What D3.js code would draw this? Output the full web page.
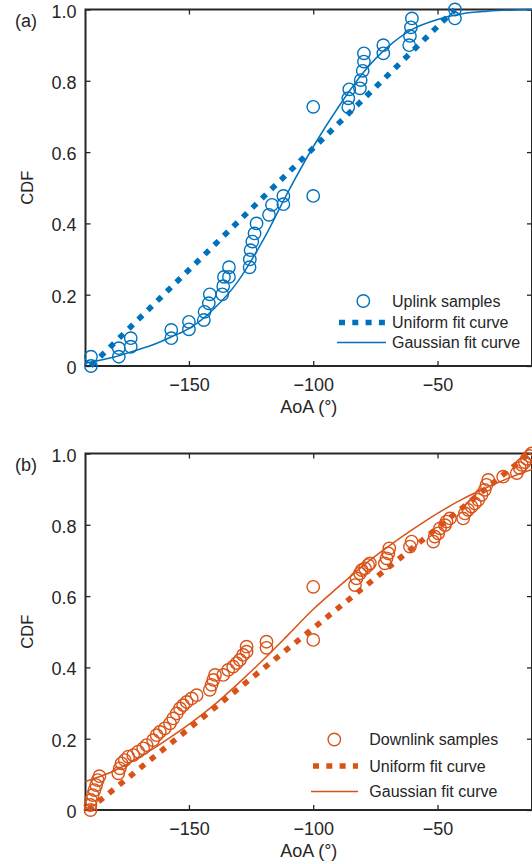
<!DOCTYPE html>
<html>
<head>
<meta charset="utf-8">
<script src="https://cdn.jsdelivr.net/npm/d3@7"></script>
<style>
  body { margin: 0; background: #fff; }
  text { font-family: "Liberation Sans", Arial, Helvetica, sans-serif; fill: #262626; }
</style>
</head>
<body>
<div id="container"></div>
<script>
// VARIABLES

const width = 532;
const height = 864;
const blue = "#0072BD";
const orange = "#D95319";
const axisColor = "#262626";

// DATA

const aoaTicks = [-150, -100, -50];
const cdfTicks = [0, 0.2, 0.4, 0.6, 0.8, 1];

// (a) uplink
const upAoA = [-189.4, -189.4, -178.2, -178.2, -173.4, -173.4, -157.1, -157.1, -150, -150,
  -144, -143.7, -142, -141.6, -136.6, -136.2, -135.9, -133.9, -133.9, -125.6,
  -125.5, -125.2, -124.5, -123.6, -122.8, -117.8, -116.6, -112, -112, -100,
  -100, -85.9, -85.9, -85.5, -81.2, -80.9, -80.1, -79.6, -79.6, -71.8,
  -71.8, -61.4, -61.1, -60.7, -60.3, -43, -43];
const upCdf = [0, 0.026, 0.026, 0.05, 0.054, 0.078, 0.078, 0.101, 0.103, 0.124,
  0.129, 0.152, 0.176, 0.201, 0.201, 0.224, 0.25, 0.25, 0.277, 0.277,
  0.299, 0.325, 0.349, 0.372, 0.4, 0.424, 0.452, 0.454, 0.477, 0.477,
  0.727, 0.726, 0.751, 0.776, 0.779, 0.802, 0.828, 0.854, 0.877, 0.877,
  0.9, 0.9, 0.926, 0.95, 0.975, 0.975, 1.0];
const upUniformAoA = [-189.5, -43];
const upUniformCdf = [0, 1];
const upGaussAoA = [-191.6, -180, -173, -165, -157, -150, -140, -130, -125, -120, -110, -100, -90, -80, -70, -60, -50, -40, -30, -12];
const upGaussCdf = [0.008, 0.025, 0.04, 0.058, 0.082, 0.105, 0.16, 0.24, 0.295, 0.355, 0.49, 0.615, 0.725, 0.822, 0.895, 0.945, 0.972, 0.988, 0.995, 1.0];

// (b) downlink
const downAoA = [-189.6, -189.6, -189.4, -188.7, -188, -187.3, -186.7, -186,
  -178.4, -177.8, -177.1, -175.8, -174.4, -172.4, -170.4, -168.4, -167,
  -164.4, -163, -161.7, -159.7, -157.6, -156.3, -154.9, -153.6, -152.3, -150.9, -148.9, -146.9,
  -141.6, -140.9, -140.2, -139.5,
  -136.2, -134.2, -132.2, -130.8, -129.5, -128.2, -126.8, -126.8,
  -118.8, -118.8, -100, -100,
  -83.2, -82.6, -81.2, -80.5, -79.2, -77.9, -77.2,
  -71.2, -70.5, -69.8, -69.4, -61.1, -60.4,
  -51.7, -51.1, -49.7, -49, -47, -46.4, -45,
  -39.7, -39, -37.7, -36.3, -35, -33.6, -32.3, -31, -30.3, -29.6,
  -23.6, -18.1, -16.9, -16.1, -14.9, -14.1, -12.9, -12.1];
const downCdf = [0, 0.014, 0.028, 0.042, 0.056, 0.07, 0.084, 0.095,
  0.103, 0.117, 0.131, 0.14, 0.15, 0.154, 0.164, 0.173, 0.182,
  0.196, 0.21, 0.219, 0.229, 0.243, 0.257, 0.271, 0.285, 0.294, 0.303, 0.313, 0.322,
  0.337, 0.351, 0.365, 0.379,
  0.379, 0.393, 0.402, 0.412, 0.421, 0.435, 0.444, 0.458,
  0.455, 0.472, 0.477, 0.626,
  0.631, 0.65, 0.664, 0.673, 0.678, 0.687, 0.692,
  0.692, 0.706, 0.72, 0.734, 0.739, 0.753,
  0.753, 0.767, 0.776, 0.79, 0.799, 0.809, 0.818,
  0.818, 0.832, 0.842, 0.851, 0.86, 0.87, 0.884, 0.898, 0.912, 0.926,
  0.935, 0.945, 0.959, 0.968, 0.976, 0.985, 0.993, 1.0];
const downUniformAoA = [-190.5, -13];
const downUniformCdf = [0, 1];
const downGaussAoA = [-191.6, -180, -170, -160, -150, -140, -130, -120, -110, -100, -90, -80, -70, -60, -50, -40, -30, -20, -12];
const downGaussCdf = [0.08, 0.11, 0.148, 0.192, 0.24, 0.294, 0.356, 0.422, 0.492, 0.563, 0.625, 0.685, 0.738, 0.787, 0.832, 0.872, 0.905, 0.935, 0.955];

const panels = [
  { tag: "(a)", color: blue, top: 9.5, bottom: 366, samples: "Uplink samples",
    ptsX: upAoA, ptsY: upCdf, uniX: upUniformAoA, uniY: upUniformCdf, gauX: upGaussAoA, gauY: upGaussCdf,
    legend: { markX: 363.3, lineX0: 337, lineX1: 386, textX: 392, rows: [306.5, 328, 348] } },
  { tag: "(b)", color: orange, top: 453.5, bottom: 810, samples: "Downlink samples",
    ptsX: downAoA, ptsY: downCdf, uniX: downUniformAoA, uniY: downUniformCdf, gauX: downGaussAoA, gauY: downGaussCdf,
    legend: { markX: 334.3, lineX0: 311, lineX1: 358, textX: 369.3, rows: [745, 771.5, 797] } }
];

// SCALES

const left = 85.5, right = 532;
const xScale = d3.scaleLinear()
  .domain([-191.6, -12])
  .range([left, right]);

// ELEMENTS

const svg = d3.select("#container")
  .append("svg")
  .attr("width", width)
  .attr("height", height);

panels.forEach(p => {
  const yScale = d3.scaleLinear().domain([0, 1]).range([p.bottom, p.top]);
  const g = svg.append("g");

  // axes, ticks inside like matlab
  const styleAxis = sel => {
    sel.select(".domain").remove();
    sel.selectAll(".tick line").attr("stroke", axisColor).attr("stroke-width", 1.3);
    sel.selectAll(".tick text").attr("font-size", 18).attr("fill", axisColor)
      .style("font-family", "'Liberation Sans', Arial, sans-serif");
  };

  g.append("g")
    .attr("transform", `translate(0,${p.bottom})`)
    .call(d3.axisBottom(xScale).tickValues(aoaTicks).tickSize(-5).tickPadding(12))
    .call(styleAxis);

  g.append("g")
    .attr("transform", `translate(0,${p.top})`)
    .call(d3.axisTop(xScale).tickValues(aoaTicks).tickSize(-5).tickFormat(""))
    .call(styleAxis);

  g.append("g")
    .attr("transform", `translate(${left},0)`)
    .call(d3.axisLeft(yScale).tickValues(cdfTicks).tickSize(-5).tickPadding(9)
      .tickFormat(d => d === 0 ? "0" : d.toFixed(1)))
    .call(styleAxis)
    .call(s => s.selectAll(".tick text").attr("dy", "0.42em"));

  g.append("g")
    .attr("transform", `translate(${right},0)`)
    .call(d3.axisRight(yScale).tickValues(cdfTicks).tickSize(-5).tickFormat(""))
    .call(styleAxis);

  g.append("rect")
    .attr("x", left)
    .attr("y", p.top)
    .attr("width", right - left)
    .attr("height", p.bottom - p.top)
    .attr("fill", "none")
    .attr("stroke", axisColor)
    .attr("stroke-width", 2);

  // uniform fit
  const line = d3.line().x(d => xScale(d[0])).y(d => yScale(d[1]));
  g.append("path")
    .datum(d3.zip(p.uniX, p.uniY))
    .attr("d", line)
    .attr("fill", "none")
    .attr("stroke", p.color)
    .attr("stroke-width", 5.5)
    .attr("stroke-dasharray", "6,7.3");

  // gaussian fit
  g.append("path")
    .datum(d3.zip(p.gauX, p.gauY))
    .attr("d", line.curve(d3.curveMonotoneX))
    .attr("fill", "none")
    .attr("stroke", p.color)
    .attr("stroke-width", 1.5);

  // samples
  g.selectAll("circle.pt")
    .data(d3.zip(p.ptsX, p.ptsY))
    .join("circle")
    .attr("class", "pt")
    .attr("cx", d => xScale(d[0]))
    .attr("cy", d => yScale(d[1]))
    .attr("r", 6.2)
    .attr("fill", "none")
    .attr("stroke", p.color)
    .attr("stroke-width", 1.4);

  // labels
  g.append("text")
    .attr("x", 15)
    .attr("y", p.top + 17)
    .attr("font-size", 18)
    .text(p.tag);

  g.append("text")
    .attr("transform", `translate(33,${(p.top + p.bottom) / 2}) rotate(-90)`)
    .attr("text-anchor", "middle")
    .attr("font-size", 16.5)
    .text("CDF");

  g.append("text")
    .attr("x", (left + right) / 2)
    .attr("y", p.bottom + 47)
    .attr("text-anchor", "middle")
    .attr("font-size", 18)
    .text("AoA (°)");

  // LEGEND
  const L = p.legend;
  const rowMid = L.rows.map(r => r - 5.5);
  g.append("circle")
    .attr("cx", L.markX).attr("cy", rowMid[0]).attr("r", 6.2)
    .attr("fill", "none").attr("stroke", p.color).attr("stroke-width", 1.4);
  g.append("line")
    .attr("x1", L.lineX0 + 2).attr("x2", L.lineX1).attr("y1", rowMid[1]).attr("y2", rowMid[1])
    .attr("stroke", p.color).attr("stroke-width", 5.5).attr("stroke-dasharray", "6,7.3");
  g.append("line")
    .attr("x1", L.lineX0).attr("x2", L.lineX1).attr("y1", rowMid[2]).attr("y2", rowMid[2])
    .attr("stroke", p.color).attr("stroke-width", 1.5);
  [p.samples, "Uniform fit curve", "Gaussian fit curve"].forEach((t, i) => {
    g.append("text")
      .attr("x", L.textX)
      .attr("y", L.rows[i])
      .attr("font-size", 16)
      .text(t);
  });
});
</script>
</body>
</html>
